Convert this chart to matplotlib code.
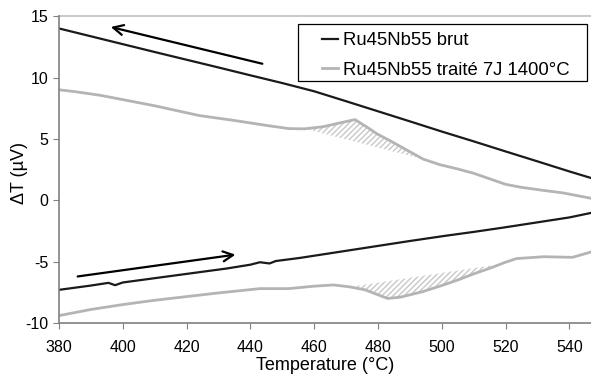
import numpy as np
import matplotlib.pyplot as plt
from matplotlib.patches import Rectangle

plt.rcParams['font.family'] = ['Liberation Sans', 'DejaVu Sans']
plt.rcParams['axes.unicode_minus'] = False

# cooling run (upper curves), temperatures in degC, signal in microvolts
t_cool_brut = [380, 390, 400, 410, 420, 430, 440, 450, 460, 470, 480, 490,
               500, 510, 520, 530, 540, 547]
dt_cool_brut = [14.0, 13.36, 12.72, 12.08, 11.45, 10.82, 10.18, 9.55, 8.88,
                8.07, 7.25, 6.43, 5.6, 4.8, 3.98, 3.17, 2.35, 1.8]

t_cool_tr = [380, 385, 393, 400, 410, 424, 435, 445, 452, 457, 463, 468,
             472.8, 476.5, 479.6, 483.8, 489, 494.2, 499.4, 505, 510, 515,
             520, 525, 532, 538, 543, 547]
dt_cool_tr = [9.0, 8.85, 8.55, 8.2, 7.7, 6.9, 6.5, 6.1, 5.84, 5.82, 6.0, 6.3,
              6.57, 5.97, 5.43, 4.85, 4.1, 3.35, 2.9, 2.55, 2.2, 1.75,
              1.3, 1.05, 0.8, 0.6, 0.35, 0.15]

# heating run (lower curves)
t_heat_brut = [380, 390, 395.5, 397.6, 400, 410, 420, 432.6, 440, 443, 446,
               448, 455.5, 460, 470, 480, 490, 501, 510, 520, 530, 540, 547]
dt_heat_brut = [-7.3, -6.95, -6.73, -6.92, -6.7, -6.35, -6.0, -5.56, -5.25,
                -5.05, -5.15, -4.95, -4.7, -4.52, -4.12, -3.72, -3.32, -2.9,
                -2.58, -2.2, -1.8, -1.4, -1.02]

t_heat_tr = [380, 390, 400, 410, 420, 430, 443, 452, 460, 466, 471, 476, 480,
             483, 487, 494, 500, 505, 510, 515, 520, 523.5, 532, 541, 547]
dt_heat_tr = [-9.4, -8.9, -8.5, -8.15, -7.85, -7.55, -7.2, -7.2, -7.0, -6.9,
              -7.05, -7.3, -7.7, -8.0, -7.9, -7.45, -6.95, -6.5, -6.0, -5.55,
              -5.05, -4.75, -4.6, -4.65, -4.2]

# peak baselines (start and end points)
peak_cool = [457.1, 494.2]
peak_heat = [471.2, 518.6]

fig = plt.figure(figsize=(5.91, 3.76), dpi=100)
ax = fig.add_axes([0.0998, 0.141, 0.9002, 0.816])

gray = '#b4b4b4'
ax.plot(t_cool_brut, dt_cool_brut, color='#1a1a1a', lw=1.6, label='Ru45Nb55 brut')
ax.plot(t_cool_tr, dt_cool_tr, color=gray, lw=2.0, label='Ru45Nb55 traité 7J 1400°C')
ax.plot(t_heat_brut, dt_heat_brut, color='#1a1a1a', lw=1.6)
ax.plot(t_heat_tr, dt_heat_tr, color=gray, lw=2.0)


def hatch_peak(t, v, lims):
    tt = np.linspace(lims[0], lims[1], 200)
    vv = np.interp(tt, t, v)
    base = np.interp(tt, lims, np.interp(lims, t, v))
    ax.fill_between(tt, vv, base, facecolor='none', edgecolor='#c8c8c8',
                    hatch='//////', linewidth=0)


hatch_peak(t_cool_tr, dt_cool_tr, peak_cool)
hatch_peak(t_heat_tr, dt_heat_tr, peak_heat)

# direction arrows
ax.annotate('', xy=(395.4, 14.17), xytext=(444.6, 11.07),
            arrowprops=dict(arrowstyle='->', color='black', lw=1.6,
                            mutation_scale=18))
ax.annotate('', xy=(436.2, -4.4), xytext=(385.0, -6.24),
            arrowprops=dict(arrowstyle='->', color='black', lw=1.6,
                            mutation_scale=18))

ax.set_xlim(380, 546.8)
ax.set_ylim(-10, 15)
ax.set_xticks(np.arange(380, 541, 20))
ax.set_yticks(np.arange(-10, 16, 5))
ax.tick_params(labelsize=11.5, length=4, color='#808080', direction='out')
ax.tick_params(axis='x', pad=8)
ax.axhline(15, color='#c0c0c0', lw=1.2, clip_on=False)
for s in ['left', 'bottom']:
    ax.spines[s].set_color('#808080')
    ax.spines[s].set_linewidth(1.2)
ax.spines['top'].set_visible(False)
ax.spines['right'].set_visible(False)

ax.set_xlabel('Temperature (°C)', fontsize=13, labelpad=2)
ax.set_ylabel('ΔT (µV)', fontsize=13)
ax.yaxis.set_label_coords(-0.058, 0.49)

# legend box drawn separately so the side padding can be wider than the top
ax.add_patch(Rectangle((0.449, 0.788), 0.543, 0.186, transform=ax.transAxes,
                       facecolor='white', edgecolor='black', lw=0.9, zorder=4))
leg = ax.legend(loc='upper left', bbox_to_anchor=(0.494, 0.947), fontsize=13.3,
                handlelength=0.85, handletextpad=0.3, borderpad=0,
                labelspacing=0.66, frameon=False, borderaxespad=0)
leg.set_zorder(5)

fig.savefig('out.png', dpi=100)
